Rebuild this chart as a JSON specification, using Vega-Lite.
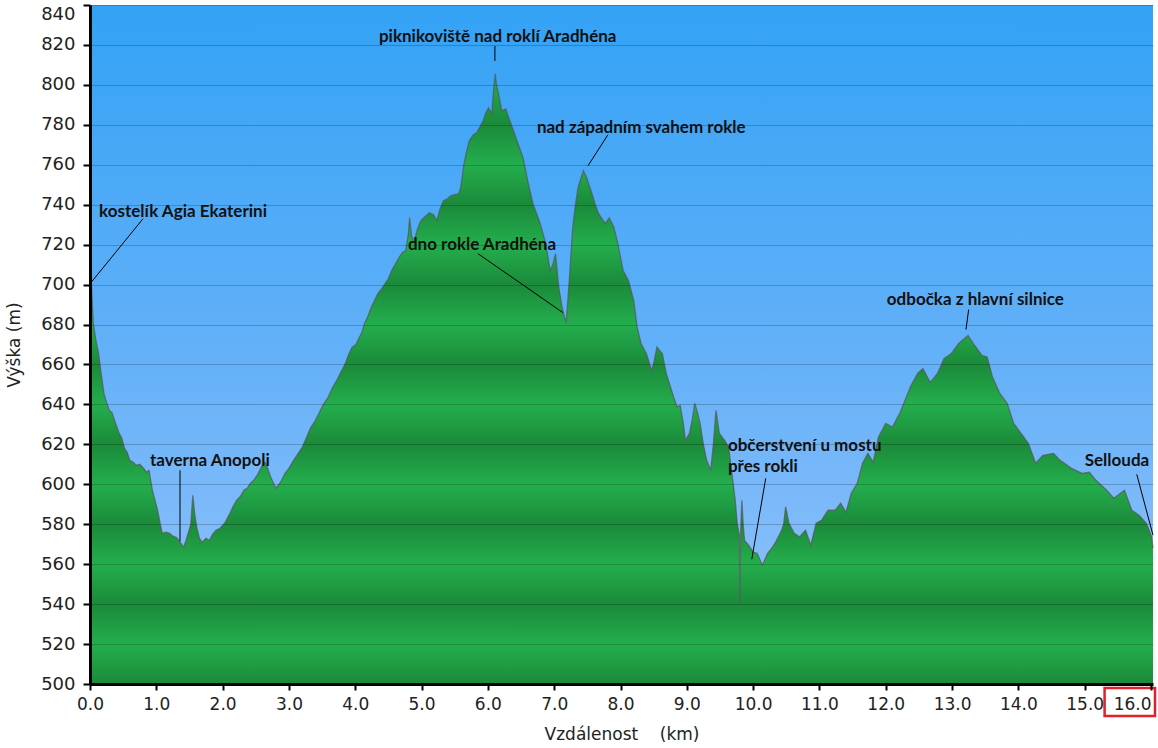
{
  "$schema": "https://vega.github.io/schema/vega-lite/v6.json",
  "width": 1063,
  "height": 679,
  "autosize": {"type": "none"},
  "padding": {"left": 90, "top": 5, "right": 5, "bottom": 64},
  "background": "#ffffff",
  "config": {"view": {"stroke": null}},
  "datasets": {
    "sky": [{"km": 0, "km2": 16.03, "m": 500, "m2": 840}],
    "profile": [
      {"km": 0.0, "m": 702}, {"km": 0.02, "m": 701}, {"km": 0.05, "m": 680.5}, {"km": 0.09, "m": 672},
      {"km": 0.13, "m": 665.5}, {"km": 0.17, "m": 655}, {"km": 0.21, "m": 645.5}, {"km": 0.25, "m": 641},
      {"km": 0.29, "m": 637}, {"km": 0.33, "m": 636}, {"km": 0.37, "m": 632}, {"km": 0.44, "m": 625.5},
      {"km": 0.48, "m": 623}, {"km": 0.52, "m": 618}, {"km": 0.56, "m": 616}, {"km": 0.6, "m": 612},
      {"km": 0.65, "m": 611}, {"km": 0.7, "m": 609.5}, {"km": 0.75, "m": 610}, {"km": 0.81, "m": 608},
      {"km": 0.85, "m": 606}, {"km": 0.89, "m": 607}, {"km": 0.94, "m": 597}, {"km": 1.02, "m": 587},
      {"km": 1.06, "m": 580}, {"km": 1.09, "m": 575.5}, {"km": 1.15, "m": 576}, {"km": 1.2, "m": 575.5},
      {"km": 1.25, "m": 574}, {"km": 1.3, "m": 573.5}, {"km": 1.36, "m": 571}, {"km": 1.41, "m": 568.5},
      {"km": 1.45, "m": 572}, {"km": 1.48, "m": 575.5}, {"km": 1.52, "m": 580}, {"km": 1.55, "m": 594.5},
      {"km": 1.58, "m": 585}, {"km": 1.61, "m": 578.5}, {"km": 1.65, "m": 573}, {"km": 1.69, "m": 571},
      {"km": 1.75, "m": 573}, {"km": 1.8, "m": 572}, {"km": 1.85, "m": 575}, {"km": 1.9, "m": 577},
      {"km": 1.96, "m": 578}, {"km": 2.03, "m": 580.5}, {"km": 2.11, "m": 585.5}, {"km": 2.16, "m": 589},
      {"km": 2.21, "m": 592}, {"km": 2.27, "m": 594}, {"km": 2.32, "m": 597}, {"km": 2.37, "m": 598},
      {"km": 2.42, "m": 600.5}, {"km": 2.47, "m": 602}, {"km": 2.52, "m": 604.5}, {"km": 2.56, "m": 607},
      {"km": 2.6, "m": 609.5}, {"km": 2.64, "m": 611}, {"km": 2.68, "m": 608}, {"km": 2.72, "m": 604},
      {"km": 2.76, "m": 601}, {"km": 2.8, "m": 598}, {"km": 2.84, "m": 599.5}, {"km": 2.89, "m": 602},
      {"km": 2.94, "m": 605.5}, {"km": 3.0, "m": 608}, {"km": 3.07, "m": 612}, {"km": 3.13, "m": 615},
      {"km": 3.2, "m": 618.5}, {"km": 3.26, "m": 623}, {"km": 3.33, "m": 628.5}, {"km": 3.4, "m": 632},
      {"km": 3.46, "m": 636}, {"km": 3.52, "m": 640}, {"km": 3.59, "m": 643.5}, {"km": 3.65, "m": 648},
      {"km": 3.72, "m": 652}, {"km": 3.78, "m": 656}, {"km": 3.85, "m": 660.5}, {"km": 3.9, "m": 665},
      {"km": 3.95, "m": 668.5}, {"km": 4.01, "m": 670}, {"km": 4.06, "m": 673.5}, {"km": 4.1, "m": 676},
      {"km": 4.14, "m": 680.5}, {"km": 4.19, "m": 684}, {"km": 4.24, "m": 688.5}, {"km": 4.29, "m": 692},
      {"km": 4.34, "m": 695.5}, {"km": 4.4, "m": 698}, {"km": 4.45, "m": 700.5}, {"km": 4.5, "m": 703},
      {"km": 4.55, "m": 707}, {"km": 4.6, "m": 710}, {"km": 4.66, "m": 713.5}, {"km": 4.71, "m": 716},
      {"km": 4.76, "m": 717}, {"km": 4.8, "m": 725}, {"km": 4.82, "m": 733.5}, {"km": 4.85, "m": 724},
      {"km": 4.89, "m": 722}, {"km": 4.94, "m": 728}, {"km": 4.99, "m": 732}, {"km": 5.05, "m": 734},
      {"km": 5.12, "m": 736}, {"km": 5.18, "m": 735}, {"km": 5.23, "m": 732}, {"km": 5.28, "m": 738},
      {"km": 5.33, "m": 742}, {"km": 5.39, "m": 743}, {"km": 5.44, "m": 744.5}, {"km": 5.5, "m": 745},
      {"km": 5.56, "m": 745.5}, {"km": 5.59, "m": 748.5}, {"km": 5.64, "m": 760.5}, {"km": 5.68, "m": 767},
      {"km": 5.72, "m": 772}, {"km": 5.78, "m": 775}, {"km": 5.83, "m": 776}, {"km": 5.88, "m": 779},
      {"km": 5.93, "m": 782}, {"km": 5.97, "m": 786}, {"km": 6.01, "m": 788.5}, {"km": 6.06, "m": 785.5},
      {"km": 6.08, "m": 795}, {"km": 6.11, "m": 805.5}, {"km": 6.13, "m": 800}, {"km": 6.16, "m": 795.5},
      {"km": 6.21, "m": 787}, {"km": 6.27, "m": 788}, {"km": 6.32, "m": 783}, {"km": 6.37, "m": 778.5},
      {"km": 6.45, "m": 771}, {"km": 6.53, "m": 763.5}, {"km": 6.57, "m": 757}, {"km": 6.61, "m": 750.5},
      {"km": 6.68, "m": 740.5}, {"km": 6.73, "m": 736}, {"km": 6.79, "m": 730.5}, {"km": 6.86, "m": 722},
      {"km": 6.9, "m": 715}, {"km": 6.94, "m": 707}, {"km": 6.98, "m": 710}, {"km": 7.02, "m": 715.5},
      {"km": 7.05, "m": 705}, {"km": 7.07, "m": 698.5}, {"km": 7.12, "m": 688.5}, {"km": 7.18, "m": 680.5},
      {"km": 7.23, "m": 703.5}, {"km": 7.28, "m": 728.5}, {"km": 7.32, "m": 740}, {"km": 7.36, "m": 748.5},
      {"km": 7.4, "m": 753}, {"km": 7.44, "m": 757}, {"km": 7.49, "m": 753.5}, {"km": 7.57, "m": 745.5},
      {"km": 7.62, "m": 740}, {"km": 7.67, "m": 735.5}, {"km": 7.72, "m": 733}, {"km": 7.77, "m": 730.5},
      {"km": 7.83, "m": 733.5}, {"km": 7.9, "m": 728.7}, {"km": 7.95, "m": 722}, {"km": 7.98, "m": 717},
      {"km": 8.04, "m": 707}, {"km": 8.12, "m": 702}, {"km": 8.2, "m": 692}, {"km": 8.25, "m": 678.7},
      {"km": 8.31, "m": 670.5}, {"km": 8.39, "m": 665.5}, {"km": 8.47, "m": 657}, {"km": 8.51, "m": 662},
      {"km": 8.55, "m": 668.7}, {"km": 8.59, "m": 667}, {"km": 8.63, "m": 665.5}, {"km": 8.69, "m": 655.5},
      {"km": 8.77, "m": 647}, {"km": 8.85, "m": 638.7}, {"km": 8.9, "m": 639.5}, {"km": 8.95, "m": 630},
      {"km": 8.98, "m": 622}, {"km": 9.04, "m": 625.5}, {"km": 9.08, "m": 632}, {"km": 9.12, "m": 640.5},
      {"km": 9.16, "m": 636}, {"km": 9.2, "m": 630.5}, {"km": 9.25, "m": 620}, {"km": 9.3, "m": 612},
      {"km": 9.36, "m": 607}, {"km": 9.4, "m": 620}, {"km": 9.44, "m": 637}, {"km": 9.49, "m": 625.5},
      {"km": 9.57, "m": 622}, {"km": 9.63, "m": 618.7}, {"km": 9.68, "m": 605.5}, {"km": 9.73, "m": 592},
      {"km": 9.76, "m": 580.5}, {"km": 9.79, "m": 575}, {"km": 9.8, "m": 540}, {"km": 9.81, "m": 575},
      {"km": 9.83, "m": 592}, {"km": 9.85, "m": 580}, {"km": 9.87, "m": 572}, {"km": 9.95, "m": 568.7},
      {"km": 10.0, "m": 566}, {"km": 10.06, "m": 565.5}, {"km": 10.14, "m": 559.5}, {"km": 10.22, "m": 565.5},
      {"km": 10.28, "m": 568}, {"km": 10.33, "m": 570.5}, {"km": 10.43, "m": 577}, {"km": 10.46, "m": 580},
      {"km": 10.49, "m": 588.7}, {"km": 10.54, "m": 580.5}, {"km": 10.62, "m": 575.5}, {"km": 10.7, "m": 573.7},
      {"km": 10.79, "m": 577}, {"km": 10.87, "m": 569.5}, {"km": 10.95, "m": 580.5}, {"km": 11.03, "m": 582},
      {"km": 11.13, "m": 587}, {"km": 11.24, "m": 587}, {"km": 11.32, "m": 590.5}, {"km": 11.4, "m": 586},
      {"km": 11.48, "m": 595.5}, {"km": 11.57, "m": 600.5}, {"km": 11.65, "m": 610.5}, {"km": 11.73, "m": 615.5},
      {"km": 11.81, "m": 611}, {"km": 11.89, "m": 623.7}, {"km": 12.0, "m": 630.5}, {"km": 12.1, "m": 628.7},
      {"km": 12.21, "m": 635.5}, {"km": 12.29, "m": 642}, {"km": 12.37, "m": 648.7}, {"km": 12.48, "m": 655.5},
      {"km": 12.56, "m": 658}, {"km": 12.67, "m": 651}, {"km": 12.78, "m": 655.5}, {"km": 12.88, "m": 663},
      {"km": 12.99, "m": 665.5}, {"km": 13.1, "m": 670.5}, {"km": 13.24, "m": 674.5}, {"km": 13.34, "m": 669.5},
      {"km": 13.45, "m": 664.5}, {"km": 13.53, "m": 663.7}, {"km": 13.61, "m": 653.7}, {"km": 13.72, "m": 645.5},
      {"km": 13.83, "m": 640.5}, {"km": 13.93, "m": 630.5}, {"km": 14.04, "m": 625.5}, {"km": 14.15, "m": 620.5},
      {"km": 14.26, "m": 610.5}, {"km": 14.37, "m": 614.5}, {"km": 14.53, "m": 615.5}, {"km": 14.63, "m": 612},
      {"km": 14.8, "m": 608}, {"km": 14.96, "m": 605.5}, {"km": 15.07, "m": 606}, {"km": 15.17, "m": 602},
      {"km": 15.33, "m": 597}, {"km": 15.44, "m": 593}, {"km": 15.6, "m": 597}, {"km": 15.71, "m": 587},
      {"km": 15.82, "m": 584.5}, {"km": 15.93, "m": 580.5}, {"km": 16.01, "m": 573.7}, {"km": 16.03, "m": 568}
    ],
    "labels": [
      {"km": 0.136, "m": 736.5, "text": "kostelík Agia Ekaterini"},
      {"km": 4.357, "m": 824, "text": "piknikoviště nad roklí Aradhéna"},
      {"km": 6.739, "m": 778.5, "text": "nad západním svahem rokle"},
      {"km": 4.794, "m": 720, "text": "dno rokle Aradhéna"},
      {"km": 12.016, "m": 692.5, "text": "odbočka z hlavní silnice"},
      {"km": 0.905, "m": 611.5, "text": "taverna Anopoli"},
      {"km": 9.62, "m": 619, "text": "občerstvení u mostu"},
      {"km": 9.62, "m": 608.5, "text": "přes rokli"},
      {"km": 15.0, "m": 611.5, "text": "Sellouda"}
    ],
    "leaders": [
      {"km": 0.015, "m": 701, "km2": 0.8, "m2": 733},
      {"km": 6.106, "m": 819.5, "km2": 6.106, "m2": 812},
      {"km": 7.81, "m": 775, "km2": 7.51, "m2": 759.5},
      {"km": 5.85, "m": 715.5, "km2": 7.13, "m2": 686},
      {"km": 13.25, "m": 687.5, "km2": 13.21, "m2": 677.5},
      {"km": 1.357, "m": 607, "km2": 1.357, "m2": 571.5},
      {"km": 10.19, "m": 603, "km2": 9.98, "m2": 562.5},
      {"km": 15.785, "m": 605, "km2": 16.03, "m2": 574.5}
    ],
    "box": [{"km": 15.3, "km2": 16.06, "m": 484, "m2": 498}]
  },
  "encoding": {
    "x": {"field": "km", "type": "quantitative", "scale": {"domain": [0, 16.03], "nice": false, "zero": false},
      "axis": {"values": [0,1,2,3,4,5,6,7,8,9,10,11,12,13,14,15,16], "format": ".1f", "grid": false, "labelOverlap": false,
        "title": "Vzdálenost\u00a0\u00a0\u00a0\u00a0(km)", "titleFont": "DejaVu Sans", "titleFontSize": 17, "titleFontWeight": "normal", "titleColor": "#222", "titlePadding": 14,
        "labelFont": "DejaVu Sans", "labelFontSize": 17, "labelColor": "#222", "labelPadding": 6,
        "labelAlign": {"condition": {"test": "datum.value >= 16", "value": "right"}, "value": "center"},
        "domainColor": "#000", "domainWidth": 3, "tickColor": "#000", "tickWidth": 2, "tickSize": 6, "zindex": 1}},
    "y": {"field": "m", "type": "quantitative", "stack": null, "scale": {"domain": [500, 840], "nice": false, "zero": false},
      "axis": {"values": [500,520,540,560,580,600,620,640,660,680,700,720,740,760,780,800,820,840], "grid": true, "labelOverlap": false,
        "gridColor": "#000", "gridOpacity": 0.2, "gridWidth": 1,
        "title": "Výška (m)", "titleFont": "DejaVu Sans", "titleFontSize": 17, "titleFontWeight": "normal", "titleColor": "#222", "titlePadding": 17,
        "labelFont": "DejaVu Sans", "labelFontSize": 18, "labelColor": "#222", "labelPadding": 8,
        "labelBaseline": {"condition": {"test": "datum.value >= 840", "value": "top"}, "value": "middle"},
        "domainColor": "#000", "domainWidth": 3, "tickColor": "#000", "tickWidth": 2, "tickSize": 7, "zindex": 1}}
  },
  "layer": [
    {
      "data": {"name": "sky"},
      "mark": {
        "type": "rect",
        "color": {"gradient": "linear", "x1": 0, "y1": 0, "x2": 0, "y2": 1,
          "stops": [{"offset": 0, "color": "#33a2f5"}, {"offset": 0.5, "color": "#62b0f8"}, {"offset": 1, "color": "#98c4fb"}]}
      },
      "encoding": {
        "x2": {"field": "km2"},
        "y2": {"field": "m2"}
      }
    },
    {
      "data": {"name": "profile"},
      "mark": {
        "type": "area",
        "color": {"gradient": "linear", "x1": 0, "y1": 0, "x2": 0, "y2": 1,
          "stops": [
            {"offset": 0.0, "color": "#24ae4d"},
            {"offset": 0.0835, "color": "#1b8a3a"},
            {"offset": 0.149, "color": "#24ae4d"},
            {"offset": 0.2144, "color": "#1b8a3a"},
            {"offset": 0.2799, "color": "#24ae4d"},
            {"offset": 0.3453, "color": "#1b8a3a"},
            {"offset": 0.4108, "color": "#24ae4d"},
            {"offset": 0.4763, "color": "#1b8a3a"},
            {"offset": 0.5417, "color": "#24ae4d"},
            {"offset": 0.6072, "color": "#1b8a3a"},
            {"offset": 0.6727, "color": "#24ae4d"},
            {"offset": 0.7381, "color": "#1b8a3a"},
            {"offset": 0.8036, "color": "#24ae4d"},
            {"offset": 0.8691, "color": "#1b8a3a"},
            {"offset": 0.9345, "color": "#24ae4d"},
            {"offset": 1.0, "color": "#1b8a3a"}
          ]}
      },
      "encoding": {
        "y2": {"datum": 500}
      }
    },
    {
      "data": {"name": "profile"},
      "mark": {"type": "line", "color": "#555555", "strokeWidth": 1.3, "opacity": 0.7},
      "encoding": {}
    },
    {
      "data": {"name": "leaders"},
      "mark": {"type": "rule", "color": "#000", "strokeWidth": 1},
      "encoding": {
        "x2": {"field": "km2"},
        "y2": {"field": "m2"}
      }
    },
    {
      "data": {"name": "labels"},
      "mark": {"type": "text", "align": "left", "baseline": "middle", "font": "Lato", "fontSize": 17, "fontWeight": "bold", "color": "#111"},
      "encoding": {
        "text": {"field": "text"}
      }
    },
    {
      "data": {"name": "box"},
      "mark": {"type": "rect", "fill": null, "stroke": "#e0202a", "strokeWidth": 2.5},
      "encoding": {
        "x2": {"field": "km2"},
        "y2": {"field": "m2"}
      }
    }
  ]
}
